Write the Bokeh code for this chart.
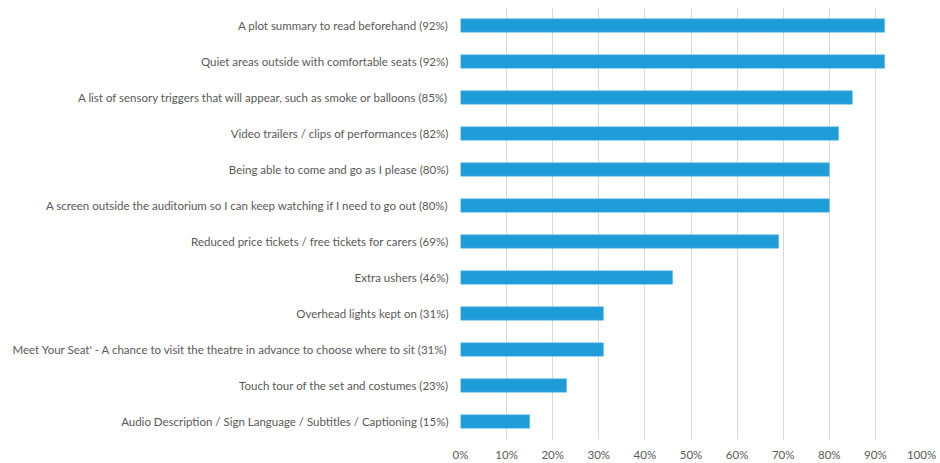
from bokeh.plotting import figure
from bokeh.models import FixedTicker, PrintfTickFormatter, Range1d, FactorRange
from bokeh.embed import file_html
from bokeh.resources import INLINE

labels = [
    "A plot summary to read beforehand (92%)",
    "Quiet areas outside with comfortable seats (92%)",
    "A list of sensory triggers that will appear, such as smoke or balloons (85%)",
    "Video trailers / clips of performances (82%)",
    "Being able to come and go as I please (80%)",
    "A screen outside the auditorium so I can keep watching if I need to go out (80%)",
    "Reduced price tickets / free tickets for carers (69%)",
    "Extra ushers (46%)",
    "Overhead lights kept on (31%)",
    "Meet Your Seat' - A chance to visit the theatre in advance to choose where to sit (31%)",
    "Touch tour of the set and costumes (23%)",
    "Audio Description / Sign Language / Subtitles / Captioning (15%)",
]
values = [92, 92, 85, 82, 80, 80, 69, 46, 31, 31, 23, 15]
x_ticks = [0, 10, 20, 30, 40, 50, 60, 70, 80, 90, 100]

factors = list(reversed(labels))

p = figure(width=936, height=463, y_range=FactorRange(factors=factors, range_padding=0),
           x_range=Range1d(0, 100), output_backend="svg", toolbar_location=None,
           min_border_left=460, min_border_right=15, min_border_top=7, min_border_bottom=0)

p.hbar(y=labels, right=values, left=0, height=0.37, color="#1E9DD9", line_color="#5CB8E6", line_width=0.6)

FONT = "Lato"
GREY = "#595959"

p.xaxis.ticker = FixedTicker(ticks=x_ticks)
p.xaxis.formatter = PrintfTickFormatter(format="%d%%")
p.xaxis.axis_line_color = None
p.xaxis.major_tick_line_color = None
p.xaxis.minor_tick_line_color = None
p.xaxis.major_tick_out = 0
p.xaxis.major_tick_in = 0
p.xaxis.minor_tick_out = 0
p.xaxis.major_label_text_font = FONT
p.xaxis.major_label_text_font_size = "11.5px"
p.xaxis.major_label_text_color = GREY
p.xaxis.major_label_standoff = 8

p.yaxis.axis_line_color = None
p.yaxis.major_tick_line_color = None
p.yaxis.minor_tick_line_color = None
p.yaxis.major_tick_out = 0
p.yaxis.major_tick_in = 0
p.yaxis.minor_tick_out = 0
p.yaxis.major_label_text_font = FONT
p.yaxis.major_label_text_font_size = "11.5px"
p.yaxis.major_label_text_color = GREY
p.yaxis.major_label_standoff = 12

p.ygrid.grid_line_color = None
p.xgrid.grid_line_color = "#D9D9D9"
p.xgrid.grid_line_width = 1
p.outline_line_color = None

open("out.html", "w").write(file_html(p, INLINE))
